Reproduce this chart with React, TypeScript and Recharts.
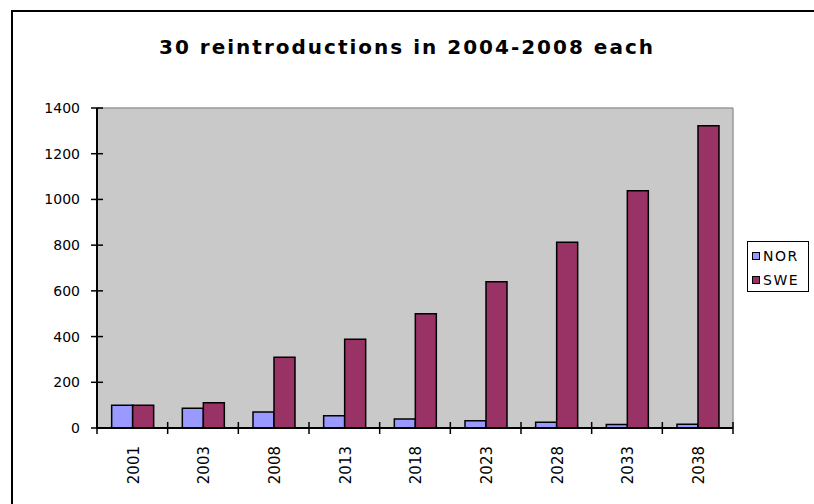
import { BarChart, Bar, XAxis, YAxis, CartesianGrid } from 'recharts';

const title = '30 reintroductions in 2004-2008 each';
const years = ['2001', '2003', '2008', '2013', '2018', '2023', '2028', '2033', '2038'];
const nor = [100, 86, 70, 54, 39, 32, 25, 15, 16];
const swe = [100, 111, 309, 388, 500, 640, 813, 1038, 1322];
const yTicks = [0, 200, 400, 600, 800, 1000, 1200, 1400];

const series = [
  { key: 'NOR', color: '#9999ff', values: nor },
  { key: 'SWE', color: '#993366', values: swe },
];

const data = years.map((year, i) => {
  const row: Record<string, string | number> = { year };
  series.forEach((s) => {
    row[s.key] = s.values[i];
  });
  return row;
});

const FONT = '"DejaVu Sans", sans-serif';

function YTick({ x, y, payload }: any) {
  // x sits at axis - tickSize; the mark crosses the axis line
  return (
    <g>
      <line x1={x} x2={x + 12} y1={y} y2={y} stroke="#000" strokeWidth={1.5} />
      <text x={x - 11} y={y} dy="0.36em" textAnchor="end" fontSize={14} fontFamily={FONT} fill="#000">
        {payload.value}
      </text>
    </g>
  );
}

function XTick({ x, y, payload, index }: any) {
  const half = payload.offset ?? 0;
  const axisY = y - 6;
  return (
    <g>
      <line x1={x - half} x2={x - half} y1={axisY - 6} y2={axisY + 6} stroke="#000" strokeWidth={1.5} />
      {index === years.length - 1 && (
        <line x1={x + half} x2={x + half} y1={axisY - 6} y2={axisY + 6} stroke="#000" strokeWidth={1.5} />
      )}
      <text
        transform={`translate(${x + 1}, ${axisY + 18}) rotate(-90)`}
        dy="0.36em"
        textAnchor="end"
        fontSize={15}
        fontFamily={FONT}
        fill="#000"
      >
        {payload.value}
      </text>
    </g>
  );
}

function LegendBox() {
  return (
    <div
      style={{
        position: 'absolute',
        left: 747,
        top: 241,
        width: 62,
        height: 51,
        border: '1px solid #000',
        background: '#fff',
        fontFamily: FONT,
        fontSize: 14,
        letterSpacing: 1.5,
        paddingTop: 2,
        boxSizing: 'border-box',
      }}
    >
      {series.map((s) => (
        <div key={s.key} style={{ display: 'flex', alignItems: 'center', height: 24, paddingLeft: 4 }}>
          <span
            style={{
              display: 'inline-block',
              width: 6,
              height: 6,
              border: '1px solid #000',
              background: s.color,
              marginRight: 3,
            }}
          />
          {s.key}
        </div>
      ))}
    </div>
  );
}

export default function App() {
  return (
    <div
      style={{
        position: 'absolute',
        left: 0,
        top: 0,
        width: 814,
        height: 504,
        overflow: 'hidden',
        background: '#fff',
      }}
    >
      <div
        style={{
          position: 'absolute',
          left: 11,
          top: 10,
          width: 900,
          height: 600,
          borderLeft: '2px solid #000',
          borderTop: '2px solid #000',
        }}
      />
      <div
        style={{
          position: 'absolute',
          top: 35,
          left: 0,
          width: 814,
          textAlign: 'center',
          fontFamily: FONT,
          fontWeight: 'bold',
          fontSize: 20,
          letterSpacing: 2,
          color: '#000',
        }}
      >
        {title}
      </div>
      <div style={{ position: 'absolute', left: 0, top: 0 }}>
        <BarChart
          width={814}
          height={504}
          data={data}
          margin={{ top: 108, right: 81, bottom: 0, left: 0 }}
          barCategoryGap="20.75%"
          barGap={0}
        >
          <CartesianGrid
            fill="#c9c9c9"
            stroke="#9a9a9a"
            strokeWidth={1.5}
            horizontalCoordinatesGenerator={({ offset }: any) => [offset.top]}
            verticalCoordinatesGenerator={({ offset }: any) => [offset.left + offset.width]}
          />
          <XAxis
            dataKey="year"
            height={76}
            axisLine={{ stroke: '#000', strokeWidth: 2 }}
            tickLine={false}
            tickSize={6}
            tickMargin={0}
            tick={<XTick />}
            interval={0}
          />
          <YAxis
            width={97}
            domain={[0, 1400]}
            ticks={yTicks}
            axisLine={{ stroke: '#000', strokeWidth: 2 }}
            tickLine={false}
            tickSize={6}
            tickMargin={0}
            tick={<YTick />}
            interval={0}
          />
          {series.map((s) => (
            <Bar
              key={s.key}
              dataKey={s.key}
              fill={s.color}
              stroke="#000"
              strokeWidth={1.5}
              isAnimationActive={false}
            />
          ))}
        </BarChart>
      </div>
      <LegendBox />
    </div>
  );
}
